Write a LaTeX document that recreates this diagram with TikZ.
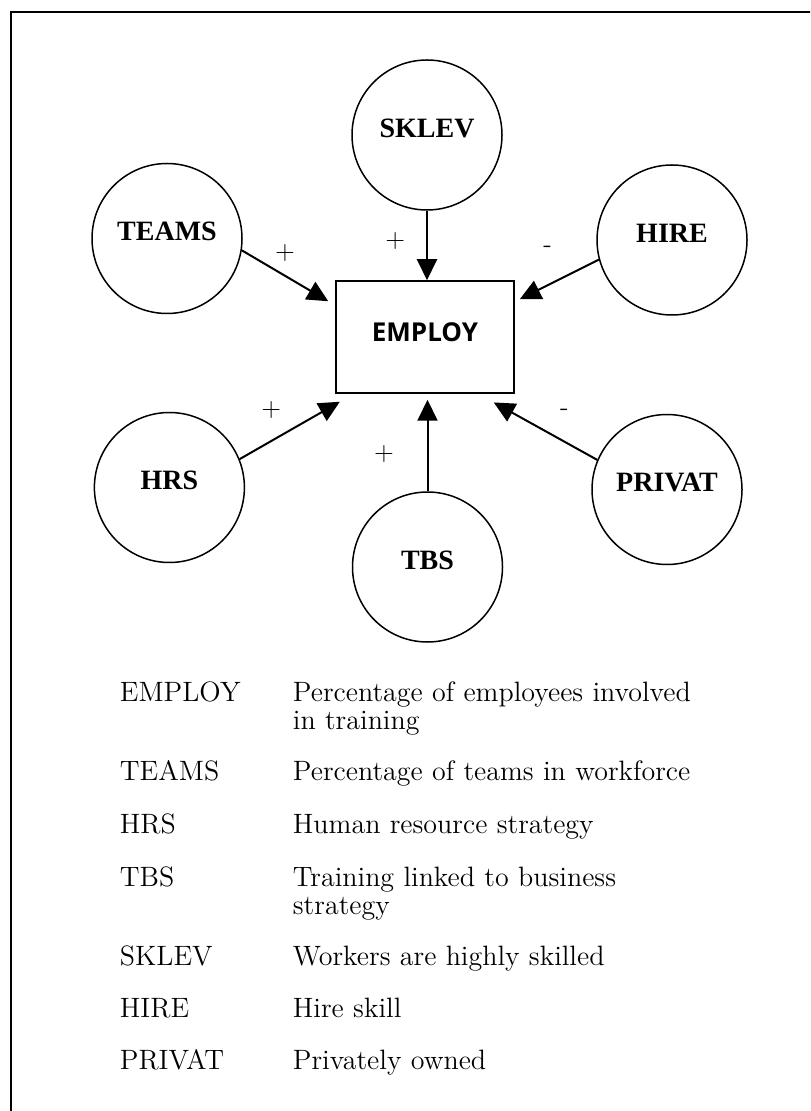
\documentclass[tikz,border=0pt]{standalone}
\usepackage{fontspec}
\newfontfamily\boxfont{Open Sans}
\newfontfamily\varfont{Liberation Serif}
\usetikzlibrary{arrows.meta}
\tikzstyle{var} = [circle, draw, line width=0.75pt, minimum size=75pt, inner sep=0pt, text depth=7pt, font=\varfont\fontsize{14}{16}\selectfont\bfseries]
\tikzstyle{target} = [rectangle, draw, line width=0.75pt, minimum width=89pt, minimum height=56pt, inner sep=0pt, text depth=4.5pt, font=\boxfont\fontsize{13}{15}\selectfont\bfseries]
\tikzstyle{arrow} = [line width=1pt,->,>={Triangle[length=10.5pt,width=10pt]}]
\tikzstyle{sign} = [inner sep=0pt, font=\fontsize{13}{15}\selectfont]
\tikzstyle{key} = [anchor=base west, inner sep=0pt, font=\fontsize{14}{14}\selectfont]
\tikzstyle{desc} = [anchor=base west, inner sep=0pt, text width=240pt, align=left, font=\fontsize{14}{14}\selectfont]

\begin{document}
\begin{tikzpicture}[x=0.5pt, y=-0.5pt]

\clip (0,0) rectangle (810,1111);
\draw [line width=1pt] (11,12) rectangle (830,1130);

%Employ
\node (employ) [target] at (425,337) {EMPLOY};

%Causes
\node (sklev) [var, node distance=101pt, above of=employ, xshift=1pt] {SKLEV};
\node (teams) [var, node distance=129pt, left of=employ, yshift=49.25pt] {TEAMS};
\node (hire) [var, node distance=123.5pt, right of=employ, yshift=48.5pt] {HIRE};
\node (hrs) [var, node distance=127.8pt, left of=employ, yshift=-75.25pt] {HRS};
\node (tbs) [var, node distance=115pt, below of=employ, xshift=1.25pt] {TBS};
\node (privat) [var, node distance=121pt, right of=employ, yshift=-76.25pt] {PRIVAT};

%Arrow ends
\coordinate (teams_tip) at ([xshift=-3.5pt, yshift=-10.5pt]employ.north west);
\coordinate (sklev_tip) at ([xshift=1pt]employ.north);
\coordinate (hire_tip) at ([xshift=2.5pt, yshift=-9.5pt]employ.north east);
\coordinate (hrs_tip) at ([xshift=2.3pt, yshift=-4pt]employ.south west);
\coordinate (tbs_tip) at ([xshift=1.25pt, yshift=-3pt]employ.south);
\coordinate (privat_tip) at ([xshift=-10.5pt, yshift=-4.35pt]employ.south east);

\draw [arrow] (teams.-9) -- node[sign, yshift=11.5pt] (s_teams) {+} (teams_tip);
\draw [arrow] (sklev.south) -- node[sign, xshift=-15.9pt, yshift=2.3pt] (s_sklev) {+} (sklev_tip);
\draw [arrow] (hire.195) -- node[sign, xshift=-5.8pt, yshift=15pt] (s_hire) {-} (hire_tip);
\draw [arrow] (hrs.22) -- node[sign, xshift=-9.2pt, yshift=10pt] (s_hrs) {+} (hrs_tip);
\draw [arrow] (tbs.north) -- node[sign, xshift=-21.8pt, yshift=-4.5pt] (s_tbs) {+} (tbs_tip);
\draw [arrow] (privat.157) -- node[sign, xshift=9.4pt, yshift=9.5pt] (s_privat) {-} (privat_tip);

%Key
\node (k_employ) [key] at (119.5,701) {EMPLOY};
\node (d_employ) [desc] at (292.5,701) {Percentage of employees involved\\in training};
\node (k_teams) [key] at (119.5,780) {TEAMS};
\node (d_teams) [desc] at (292.5,780) {Percentage of teams in workforce};
\node (k_hrs) [key] at (119.5,833) {HRS};
\node (d_hrs) [desc] at (292.5,833) {Human resource strategy};
\node (k_tbs) [key] at (119.5,886) {TBS};
\node (d_tbs) [desc] at (292.5,886) {Training linked to business\\strategy};
\node (k_sklev) [key] at (119.5,965) {SKLEV};
\node (d_sklev) [desc] at (292.5,965) {Workers are highly skilled};
\node (k_hire) [key] at (119.5,1017) {HIRE};
\node (d_hire) [desc] at (292.5,1017) {Hire skill};
\node (k_privat) [key] at (119.5,1069) {PRIVAT};
\node (d_privat) [desc] at (292.5,1069) {Privately owned};

\end{tikzpicture}
\end{document}
